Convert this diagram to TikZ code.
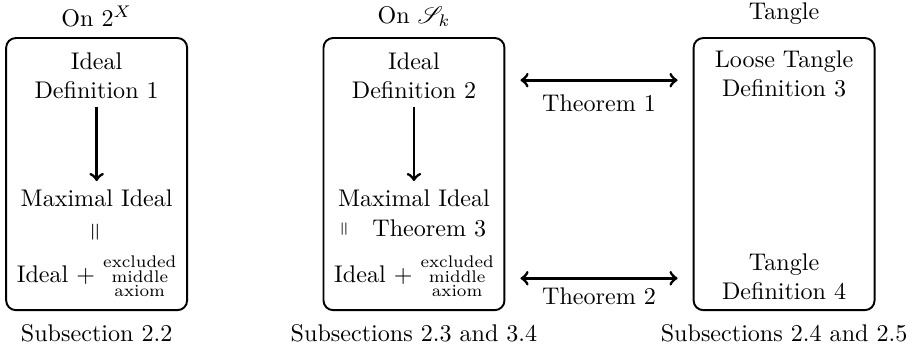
\documentclass[tikz,border=0pt]{standalone}
\usepackage{mathrsfs}
\usetikzlibrary{positioning}
\begin{document}
\begin{tikzpicture}[every node/.style={align=center}]
\tikzset{
  frame/.style={draw, thick, rounded corners, minimum width=2.64cm, minimum height=3.97cm},
  title/.style={anchor=base},
  imp/.style={->, very thick},
  equiv/.style={<->, very thick}
}
\useasboundingbox (0,0) rectangle (13.35,-5.09);

\node[frame] (setbox) at (1.41,-2.54) {};
\node[frame] (skbox) at (6.04,-2.54) {};
\node[frame] (tanglebox) at (11.44,-2.54) {};

\node[title] (settitle) at (1.41,-0.38) {On $2^X$};
\node[title] (sktitle) at (6.04,-0.34) {On $\mathscr{S}_k$};
\node[title] (tangletitle) at (11.44,-0.29) {Tangle};
\node[below=2pt of setbox] (setsec) {Subsection 2.2};
\node[below=2pt of skbox] (sksec) {Subsections 2.3 and 3.4};
\node[below=2pt of tanglebox] (tanglesec) {Subsections 2.4 and 2.5};

\node (ideal1) at (1.41,-1.10) {Ideal\\Definition 1};
\node (max1) at (1.41,-2.89) {Maximal Ideal};
\node (eq1) at (1.41,-3.38) {\rotatebox{90}{$=$}};
\node (ax1) at (1.41,-4.06) {Ideal $+$ {\scriptsize\begin{tabular}{@{}c@{}}excluded\\[-2pt]middle\\[-2pt]axiom\end{tabular}}};
\draw[imp] (ideal1) -- (max1);

\node (ideal2) at (6.04,-1.10) {Ideal\\Definition 2};
\node (max2) at (6.04,-2.89) {Maximal Ideal};
\node (eq2) at (6.04,-3.33) {\rotatebox{90}{$\scriptstyle=$}\quad Theorem 3};
\node (ax2) at (6.04,-4.06) {Ideal $+$ {\scriptsize\begin{tabular}{@{}c@{}}excluded\\[-2pt]middle\\[-2pt]axiom\end{tabular}}};
\draw[imp] (ideal2) -- (max2);

\node (loose) at (11.44,-1.08) {Loose Tangle\\Definition 3};
\node (tangle) at (11.44,-4.04) {Tangle\\Definition 4};

\coordinate (t1) at (0,-1.17);
\coordinate (t2) at (0,-4.06);
\draw[equiv] ([xshift=2.2mm]skbox.east |- t1) -- ([xshift=-2.2mm]tanglebox.west |- t1)
  node[midway, below=2pt] (thm1) {Theorem 1};
\draw[equiv] ([xshift=2.2mm]skbox.east |- t2) -- ([xshift=-2.2mm]tanglebox.west |- t2)
  node[midway, below=0pt] (thm2) {Theorem 2};
\end{tikzpicture}
\end{document}
